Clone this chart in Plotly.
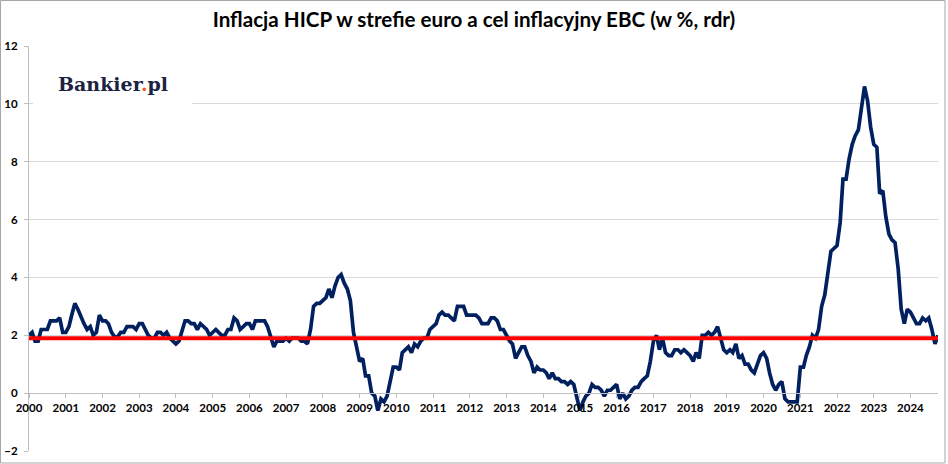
import plotly.graph_objects as go
import pandas as pd

# Monthly HICP inflation in the euro area (% y/y), Jan 2000 - Oct 2024
hicp_2000_2007 = [
    2.0, 2.1, 1.8, 1.8, 2.2, 2.2, 2.2, 2.5, 2.5, 2.5, 2.6, 2.1,   # 2000
    2.1, 2.3, 2.7, 3.1, 2.9, 2.6, 2.4, 2.2, 2.3, 2.0, 2.1, 2.7,   # 2001
    2.5, 2.5, 2.4, 2.1, 1.95, 1.95, 2.1, 2.1, 2.3, 2.3, 2.3, 2.2, # 2002
    2.4, 2.4, 2.2, 2.0, 1.9, 1.9, 2.1, 2.1, 2.0, 2.1, 1.9, 1.8,   # 2003
    1.7, 1.8, 2.1, 2.5, 2.5, 2.4, 2.4, 2.2, 2.4, 2.3, 2.2, 2.0,   # 2004
    2.1, 2.2, 2.1, 2.0, 2.0, 2.2, 2.2, 2.6, 2.5, 2.2, 2.3, 2.4,   # 2005
    2.4, 2.2, 2.5, 2.5, 2.5, 2.5, 2.3, 1.9, 1.6, 1.8, 1.8, 1.8,   # 2006
    1.9, 1.8, 1.9, 1.9, 1.9, 1.8, 1.8, 1.7, 2.2, 3.0, 3.1, 3.1,   # 2007
]
hicp_2008_2016 = [
    3.2, 3.3, 3.6, 3.3, 3.7, 4.0, 4.1, 3.8, 3.6, 3.2, 2.1, 1.6,   # 2008
    1.1, 1.2, 0.6, 0.6, 0.0, -0.1, -0.6, -0.2, -0.3, -0.1, 0.5, 0.9,  # 2009
    0.9, 0.8, 1.4, 1.5, 1.6, 1.4, 1.7, 1.6, 1.8, 1.9, 1.9, 2.2,   # 2010
    2.3, 2.4, 2.7, 2.8, 2.7, 2.7, 2.6, 2.5, 3.0, 3.0, 3.0, 2.7,   # 2011
    2.7, 2.7, 2.7, 2.6, 2.4, 2.4, 2.4, 2.6, 2.6, 2.5, 2.2, 2.2,   # 2012
    2.0, 1.8, 1.7, 1.2, 1.4, 1.6, 1.6, 1.3, 1.1, 0.7, 0.9, 0.8,   # 2013
    0.8, 0.7, 0.5, 0.7, 0.5, 0.5, 0.4, 0.4, 0.3, 0.4, 0.3, -0.2,  # 2014
    -0.6, -0.3, -0.1, 0.0, 0.3, 0.2, 0.2, 0.1, -0.1, 0.1, 0.1, 0.2,  # 2015
    0.3, -0.2, 0.0, -0.2, -0.1, 0.1, 0.2, 0.2, 0.4, 0.5, 0.6, 1.1,   # 2016
]
hicp_2017_2024 = [
    1.8, 2.0, 1.5, 1.9, 1.4, 1.3, 1.3, 1.5, 1.5, 1.4, 1.5, 1.4,   # 2017
    1.3, 1.1, 1.4, 1.2, 2.0, 2.0, 2.1, 2.0, 2.1, 2.3, 1.9, 1.5,   # 2018
    1.4, 1.5, 1.4, 1.7, 1.2, 1.3, 1.0, 1.0, 0.8, 0.7, 1.0, 1.3,   # 2019
    1.4, 1.2, 0.7, 0.3, 0.1, 0.3, 0.4, -0.2, -0.3, -0.3, -0.3, -0.3,  # 2020
    0.9, 0.9, 1.3, 1.6, 2.0, 1.9, 2.2, 3.0, 3.4, 4.1, 4.9, 5.0,   # 2021
    5.1, 5.9, 7.4, 7.4, 8.1, 8.6, 8.9, 9.1, 9.9, 10.6, 10.1, 9.2, # 2022
    8.6, 8.5, 6.9, 7.0, 6.1, 5.5, 5.3, 5.2, 4.3, 2.9, 2.4, 2.9,   # 2023
    2.8, 2.6, 2.4, 2.4, 2.6, 2.5, 2.6, 2.2, 1.7, 2.0,             # 2024
]
hicp = hicp_2000_2007 + hicp_2008_2016 + hicp_2017_2024
months = pd.date_range("2000-01-01", periods=len(hicp), freq="MS")
ecb_target = [1.9] * len(hicp)

year_labels = [str(y) for y in range(2000, 2025)]
year_ticks = [pd.Timestamp(f"{y}-01-01") for y in range(2000, 2025)]
y_ticks = [-2, 0, 2, 4, 6, 8, 10, 12]

title_text = "Inflacja HICP w strefie euro a cel inflacyjny EBC (w %, rdr)"
logo_text = "Bankier<span style='color:#ef5a24'>.</span>pl"

W, H = 948, 464
ML, MR, MT, MB = 29, 10, 46, 13
PW, PH = W - ML - MR, H - MT - MB

def px_x(px):
    return (px - ML) / PW

def px_y(py):
    return (H - MB - py) / PH

fig = go.Figure()
fig.add_trace(go.Scatter(
    x=months, y=hicp, mode="lines",
    line=dict(color="#002060", width=3.7),
    hoverinfo="x+y", showlegend=False,
))
fig.add_trace(go.Scatter(
    x=months, y=ecb_target, mode="lines",
    line=dict(color="#ff0000", width=4),
    hoverinfo="skip", showlegend=False,
))

tick_font = dict(family="Lato", size=11.5, color="#000000", weight="bold")

fig.update_layout(
    width=W, height=H, autosize=False,
    margin=dict(l=ML, r=MR, t=MT, b=MB),
    paper_bgcolor="white", plot_bgcolor="white",
    title=dict(
        text=title_text, x=0.5, xref="container", xanchor="center",
        y=1 - 20 / H, yref="container", yanchor="middle",
        font=dict(family="Lato", size=20.6, color="#000000", weight="bold"),
    ),
    xaxis=dict(
        range=[months[0], months[-1]],
        anchor="free", position=2 / 14,
        showgrid=False, zeroline=False,
        showline=True, linecolor="#bfbfbf", linewidth=1,
        ticks="outside", ticklen=4, tickcolor="#bfbfbf",
        tickvals=year_ticks, ticktext=year_labels,
        tickfont=tick_font, automargin=False,
    ),
    yaxis=dict(
        range=[-2, 12], tickvals=y_ticks,
        showgrid=True, gridcolor="#d9d9d9", gridwidth=1,
        zeroline=False,
        showline=True, linecolor="#bfbfbf", linewidth=1,
        ticks="outside", ticklen=4, tickcolor="#bfbfbf",
        tickfont=tick_font, automargin=False, ticklabelstandoff=4,
    ),
    shapes=[
        dict(type="rect", xref="paper", yref="paper",
             x0=px_x(33), x1=px_x(192), y0=px_y(110), y1=px_y(60),
             fillcolor="white", line=dict(width=0), layer="above"),
        dict(type="rect", xref="paper", yref="paper",
             x0=px_x(0.5), x1=px_x(945), y0=px_y(463), y1=px_y(0.5),
             fillcolor="rgba(0,0,0,0)", line=dict(color="#a6a6a6", width=1),
             layer="above"),
    ],
    annotations=[
        dict(text=logo_text, xref="paper", yref="paper",
             x=px_x(56), y=px_y(84), xanchor="left", yanchor="middle",
             showarrow=False,
             font=dict(family="DejaVu Serif", size=19, color="#1b2342", weight="bold")),
    ],
)

fig.write_html(
    "out.html",
    config={"displayModeBar": False},
    post_script="document.body.style.margin='0';document.body.style.overflow='hidden';",
)
